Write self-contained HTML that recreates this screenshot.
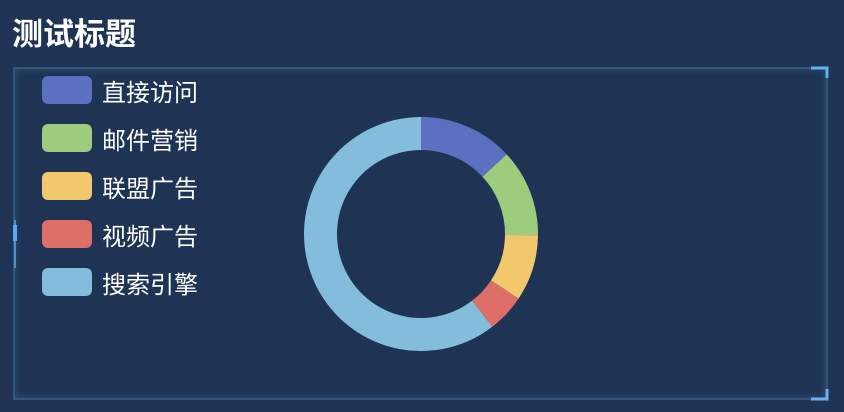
<!DOCTYPE html>
<html><head><meta charset="utf-8"><style>
html,body{margin:0;padding:0;}
body{width:844px;height:412px;background:#1f3454;position:relative;overflow:hidden;font-family:"Liberation Sans","Noto Sans CJK SC",sans-serif;}
#title{position:absolute;left:12px;top:15px;font-size:31px;font-weight:bold;color:#fff;line-height:40px;}
#frame{position:absolute;left:13px;top:67px;width:815px;height:333px;box-sizing:border-box;border:2px solid rgba(90,150,200,0.35);box-shadow:inset 0 0 8px rgba(100,170,230,0.25);}
.leg{position:absolute;left:42px;height:28px;display:flex;align-items:center;}
.sw{width:50px;height:28px;border-radius:6px;}
.lt{margin-left:10px;color:#fff;font-size:24px;}
</style></head><body>
<div id="title">测试标题</div>
<div id="frame"></div>
<svg width="844" height="412" style="position:absolute;left:0;top:0">
<path d="M811 68 H827 V78" stroke="#5fb4f0" stroke-width="3" fill="none"/>
<path d="M811 399 H827 V389" stroke="#6fb0f0" stroke-width="3" fill="none"/>
<rect x="13" y="225" width="4" height="16" fill="#5fa8ee"/>
<line x1="15" y1="220" x2="15" y2="268" stroke="#5fa8ee" stroke-width="1.5"/>
<g id="pie"></g>
</svg>
<div id="legend"></div>
<script>
const categories=["直接访问","邮件营销","联盟广告","视频广告","搜索引擎"];
const values=[335,310,234,135,1548];
const colors=["#5b70c1","#9fcb7c","#f2c86c","#dd6e68","#84bcdb"];
const cx=421,cy=234,R=117,r=84;
const g=document.getElementById('pie');
const total=values.reduce((a,b)=>a+b,0);
let a0=-Math.PI/2;
function pt(rad,a){return [cx+rad*Math.cos(a),cy+rad*Math.sin(a)];}
values.forEach((v,i)=>{
  const a1=a0+v/total*2*Math.PI;
  const large=(a1-a0)>Math.PI?1:0;
  const [x1,y1]=pt(R,a0),[x2,y2]=pt(R,a1),[x3,y3]=pt(r,a1),[x4,y4]=pt(r,a0);
  const p=document.createElementNS('http://www.w3.org/2000/svg','path');
  p.setAttribute('d',`M${x1} ${y1} A${R} ${R} 0 ${large} 1 ${x2} ${y2} L${x3} ${y3} A${r} ${r} 0 ${large} 0 ${x4} ${y4} Z`);
  p.setAttribute('fill',colors[i]);
  
  
  g.appendChild(p);
  a0=a1;
});
const leg=document.getElementById('legend');
categories.forEach((c,i)=>{
  const d=document.createElement('div');
  d.className='leg';d.style.top=(76+48*i)+'px';
  
  
  d.innerHTML=`<div class="sw" style="background:${colors[i]}"></div><span class="lt">${c}</span>`;
  leg.appendChild(d);
});
</script>
</body></html>
